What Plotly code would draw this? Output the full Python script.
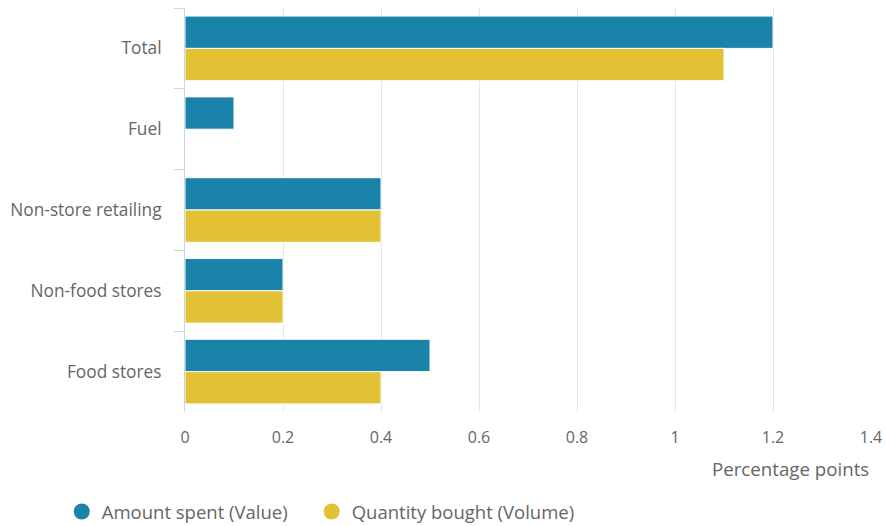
import plotly.graph_objects as go

categories = ["Total", "Fuel", "Non-store retailing", "Non-food stores", "Food stores"]
value_spent = [1.2, 0.1, 0.4, 0.2, 0.5]
volume_bought = [1.1, None, 0.4, 0.2, 0.4]
x_ticks = [0, 0.2, 0.4, 0.6, 0.8, 1, 1.2, 1.4]
x_tick_labels = ["0", "0.2", "0.4", "0.6", "0.8", "1", "1.2", "1.4"]

BLUE = "#1a83aa"
GOLD = "#e2c135"
TEXT = "#666666"
FONT = "Open Sans, sans-serif"

fig = go.Figure()
fig.add_trace(go.Bar(
    y=categories, x=value_spent, orientation="h", name="Amount spent (Value)",
    marker=dict(color=BLUE, line=dict(color="white", width=1)), showlegend=False,
))
fig.add_trace(go.Bar(
    y=categories, x=volume_bought, orientation="h", name="Quantity bought (Volume)",
    marker=dict(color=GOLD, line=dict(color="white", width=1)), showlegend=False,
))
# circular legend symbols, one legend box per series
for name, col, leg in [("Amount spent (Value)", BLUE, "legend"),
                       ("Quantity bought (Volume)", GOLD, "legend2")]:
    fig.add_trace(go.Scatter(
        x=[None], y=[None], mode="markers", name=name, legend=leg,
        marker=dict(symbol="circle", size=16, color=col),
    ))

legend_common = dict(
    orientation="h", xref="container", y=-0.2475, yref="paper",
    xanchor="left", yanchor="middle",
    font=dict(family=FONT, size=18.5, color=TEXT),
    itemsizing="trace", tracegroupgap=0, itemwidth=30,
)

fig.update_layout(
    width=886, height=526,
    margin=dict(l=185, r=15, t=8, b=114, autoexpand=False),
    paper_bgcolor="white", plot_bgcolor="white",
    font=dict(family=FONT, size=17, color=TEXT),
    barmode="group", bargap=0.2, bargroupgap=0,
    legend=dict(x=0.0697, **legend_common),
    legend2=dict(x=0.3518, **legend_common),
    xaxis=dict(
        range=[0, 1.4], tickvals=x_ticks, ticktext=x_tick_labels,
        showgrid=True, gridcolor="#e6e6e6", gridwidth=1,
        zeroline=False, showline=False, ticks="",
        ticklabelstandoff=14, automargin=False,
        tickfont=dict(size=16, color=TEXT),
    ),
    yaxis=dict(
        type="category", categoryorder="array", categoryarray=categories,
        range=[4.5, -0.5], automargin=False,
        showgrid=False, zeroline=False,
        showline=True, linecolor="#ccd6eb", linewidth=1,
        ticks="outside", tickson="boundaries", ticklen=10, tickcolor="#ccd6eb",
        ticklabelstandoff=19,
        tickfont=dict(size=17.3, color=TEXT),
    ),
    annotations=[dict(
        text="Percentage points", xref="paper", yref="paper",
        x=1, y=-0.104, xanchor="right", yanchor="top", showarrow=False,
        font=dict(family=FONT, size=18.7, color=TEXT),
    )],
)

fig.write_html("out.html")
